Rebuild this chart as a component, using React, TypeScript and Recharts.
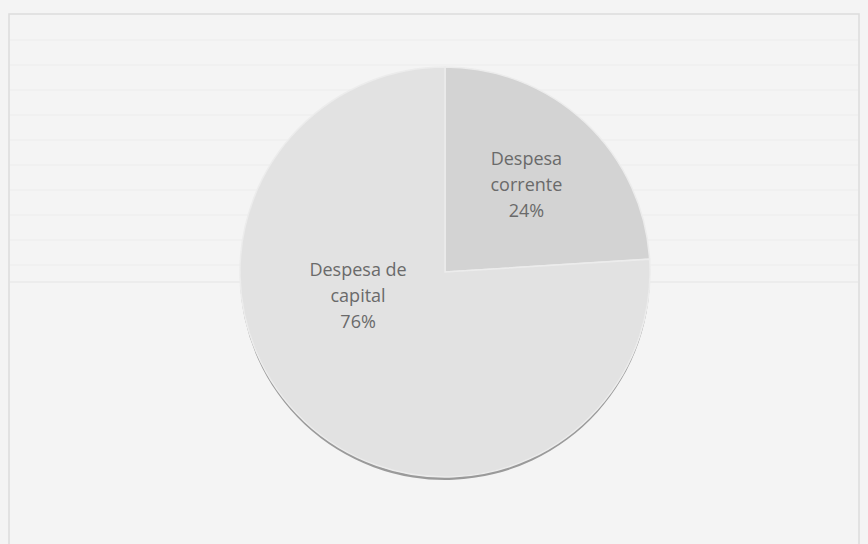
import React from "react";
import { PieChart, Pie, Cell } from "recharts";

const categories = ["Despesa corrente", "Despesa de capital"];
const shares = [24, 76];
const sliceColors = ["#d3d3d3", "#e2e2e2"];

const data = categories.map((name, i) => ({ name, value: shares[i] }));

const CX = 445;
const CY = 272;
const R = 205;

// where the labels sit inside each slice (angle in degrees, radius as fraction of R)
const labelSpots = [
  { angle: 46.8, r: 0.58 },
  { angle: 195.5, r: 0.44 },
];

const renderLabel = (props: any) => {
  const { cx, cy, outerRadius, index, name, value } = props;
  const spot = labelSpots[index];
  const rad = (spot.angle * Math.PI) / 180;
  const x = cx + outerRadius * spot.r * Math.cos(rad);
  const y = cy - outerRadius * spot.r * Math.sin(rad);
  const words = name.split(" ");
  const lines =
    index === 0
      ? [words[0], words.slice(1).join(" "), `${value}%`]
      : [words.slice(0, 2).join(" "), words.slice(2).join(" "), `${value}%`];
  return (
    <text
      x={x}
      y={y - 20}
      textAnchor="middle"
      fill="#6a6a6a"
      fontFamily="'Open Sans', sans-serif"
      fontSize={18}
    >
      {lines.map((l, i) => (
        <tspan key={i} x={x} dy={i === 0 ? 0 : 26}>
          {l}
        </tspan>
      ))}
    </text>
  );
};

const rows = [40, 65, 90, 115, 140, 165, 190, 215, 240, 265];

export default function App() {
  return (
    <div
      style={{
        position: "absolute",
        left: 0,
        top: 0,
        width: 868,
        height: 544,
        background: "#f4f4f4",
        overflow: "hidden",
      }}
    >
      <svg
        width={868}
        height={544}
        style={{ position: "absolute", left: 0, top: 0 }}
      >
        <rect x={9} y={14} width={850} height={560} fill="none" stroke="#dcdcdc" strokeWidth={1.5} />
        {rows.map((y) => (
          <line key={y} x1={10} x2={858} y1={y} y2={y} stroke="#ececec" strokeWidth={1} />
        ))}
        <line x1={10} x2={858} y1={282} y2={282} stroke="#e4e4e4" strokeWidth={1} />
      </svg>
      <div style={{ position: "absolute", left: 0, top: 0 }}>
        <PieChart width={868} height={544} margin={{ top: 0, right: 0, bottom: 0, left: 0 }}>
          <Pie
            data={data}
            dataKey="value"
            cx={CX}
            cy={CY + 3}
            outerRadius={R}
            startAngle={90}
            endAngle={-270}
            stroke="none"
            fill="#9a9a9a"
            isAnimationActive={false}
          />
          <Pie
            data={data}
            dataKey="value"
            cx={CX}
            cy={CY}
            outerRadius={R}
            startAngle={90}
            endAngle={-270}
            stroke="#ececec"
            strokeWidth={1.5}
            labelLine={false}
            label={renderLabel}
            isAnimationActive={false}
          >
            {data.map((d, i) => (
              <Cell key={d.name} fill={sliceColors[i]} />
            ))}
          </Pie>
        </PieChart>
      </div>
    </div>
  );
}
